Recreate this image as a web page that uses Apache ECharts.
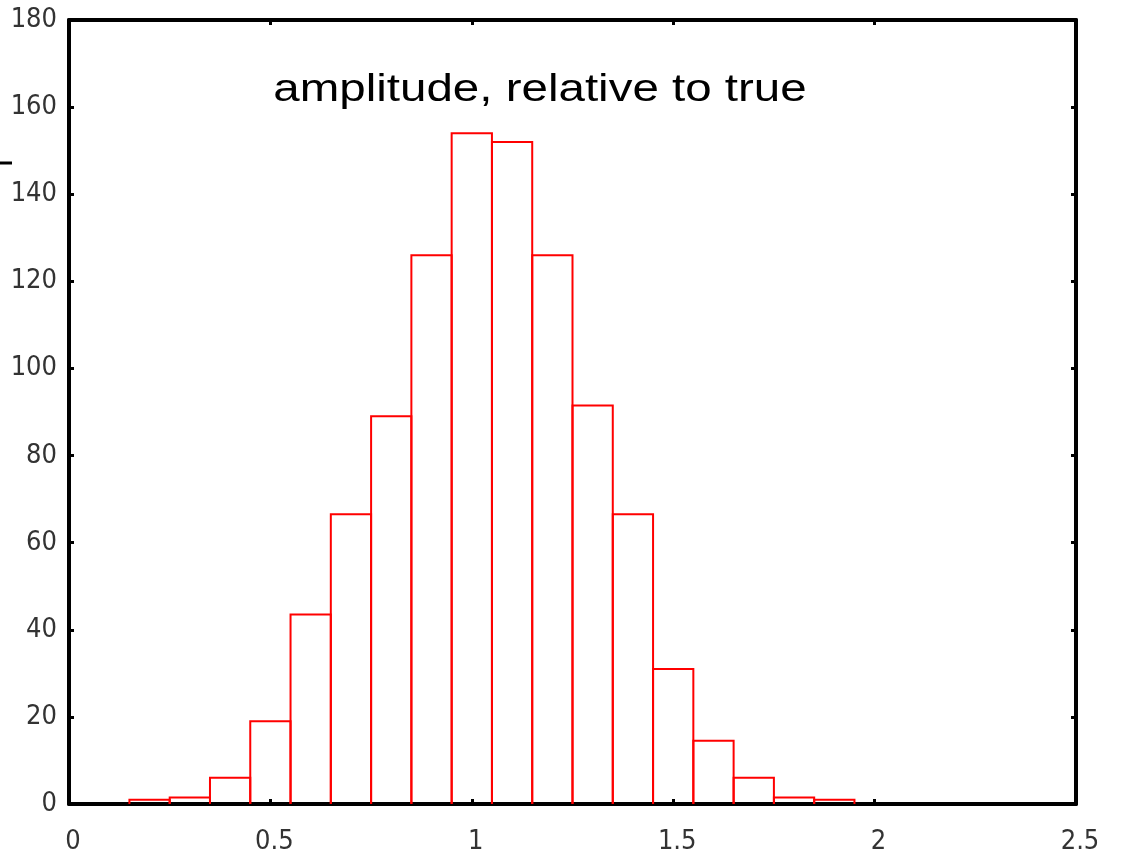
<!DOCTYPE html>
<html>
<head>
<meta charset="utf-8">
<script src="https://cdn.jsdelivr.net/npm/echarts@6/dist/echarts.min.js"></script>
<style>
html,body{margin:0;padding:0;background:#fff;}
#chart{width:1122px;height:857px;}
</style>
</head>
<body>
<div id="chart"></div>
<script>
// ---- data ----
var titleText = 'amplitude, relative to true';
var binLeft  = [0.15,0.25,0.35,0.45,0.55,0.65,0.75,0.85,0.95,1.05,1.15,1.25,1.35,1.45,1.55,1.65,1.75,1.85];
var binRight = [0.25,0.35,0.45,0.55,0.65,0.75,0.85,0.95,1.05,1.15,1.25,1.35,1.45,1.55,1.65,1.75,1.85,1.95];
var counts   = [1,1.5,6,19,43.5,66.5,89,126,154,152,126,91.5,66.5,31,14.5,6,1.5,1];
var xTicks = {min: 0, max: 2.5, interval: 0.5};
var yTicks = {min: 0, max: 180, interval: 20};

var seriesData = binLeft.map(function (l, i) { return [l, binRight[i], counts[i]]; });

var labelFont = "'Liberation Sans Narrow', 'DejaVu Sans Condensed', 'Liberation Sans', sans-serif";

function axisCommon() {
  return {
    axisLine: {show: true, onZero: false, lineStyle: {color: '#000', width: 4}},
    axisTick: {show: true, inside: true, length: 5, lineStyle: {color: '#000', width: 3}},
    splitLine: {show: false}
  };
}

var chart = echarts.init(document.getElementById('chart'), null, {renderer: 'canvas'});

var xBottom = Object.assign(axisCommon(), {
  type: 'value', position: 'bottom', min: xTicks.min, max: xTicks.max, interval: xTicks.interval,
  axisLabel: {show: true, color: '#333', fontFamily: labelFont, fontSize: 27, margin: 24, padding: [0,0,0,8]}
});
var xTop = Object.assign(axisCommon(), {
  type: 'value', position: 'top', min: xTicks.min, max: xTicks.max, interval: xTicks.interval,
  axisLabel: {show: false}
});
var yLeft = Object.assign(axisCommon(), {
  type: 'value', position: 'left', min: yTicks.min, max: yTicks.max, interval: yTicks.interval,
  axisLabel: {show: true, color: '#333', fontFamily: labelFont, fontSize: 27, margin: 12}
});
var yRight = Object.assign(axisCommon(), {
  type: 'value', position: 'right', min: yTicks.min, max: yTicks.max, interval: yTicks.interval,
  axisLabel: {show: false}
});

chart.setOption({
  animation: false,
  backgroundColor: '#fff',
  grid: {left: 69, right: 46, top: 20, bottom: 53, containLabel: false},
  xAxis: [xBottom, xTop],
  yAxis: [yLeft, yRight],
  graphic: [
    {
      type: 'text', x: 540, y: 91, scaleX: 1.25, scaleY: 1, z: 100,
      style: {
        text: titleText, x: 0, y: 0, align: 'center', verticalAlign: 'middle',
        font: "38px 'Liberation Sans', Arial, sans-serif", fill: '#000'
      }
    },
    {
      type: 'line', z: 100,
      shape: {x1: 0, y1: 163, x2: 12, y2: 163},
      style: {stroke: '#000', lineWidth: 3}
    }
  ],
  series: [{
    type: 'custom',
    xAxisIndex: 0, yAxisIndex: 0,
    data: seriesData,
    z: 1,
    renderItem: function (params, api) {
      var bl = api.coord([api.value(0), 0]);
      var tl = api.coord([api.value(0), api.value(2)]);
      var tr = api.coord([api.value(1), api.value(2)]);
      var br = api.coord([api.value(1), 0]);
      return {
        type: 'polyline',
        shape: {points: [bl, tl, tr, br]},
        style: {stroke: '#ff0000', lineWidth: 2, fill: null}
      };
    }
  }]
});
</script>
</body>
</html>
